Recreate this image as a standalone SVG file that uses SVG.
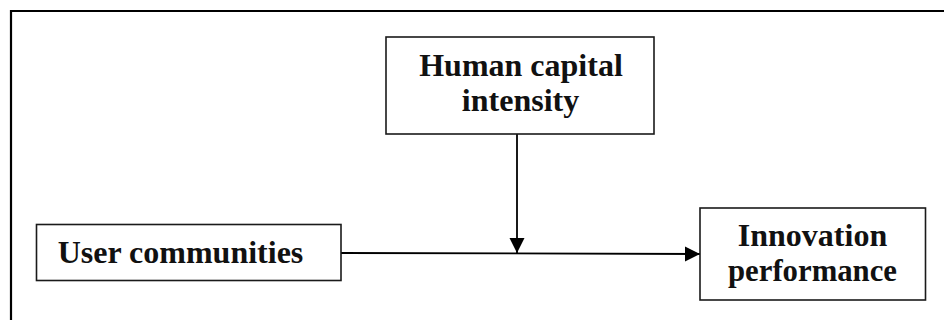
<svg xmlns="http://www.w3.org/2000/svg" width="944" height="320" viewBox="0 0 944 320">
  <style>
    .box { fill: #ffffff; stroke: #1a1a1a; stroke-width: 1.6; }
    .lbl { font-family: "Liberation Serif", "Times New Roman", serif; font-weight: bold; font-size: 32px; fill: #111111; text-anchor: middle; }
    .edge { stroke: #000000; stroke-width: 1.8; fill: none; }
    .frame { stroke: #000000; stroke-width: 2.2; fill: none; }
  </style>
  <defs>
    <marker id="arrow" viewBox="0 0 10 10" refX="10" refY="5" markerWidth="8.5" markerHeight="8.5" markerUnits="strokeWidth" orient="auto">
      <path d="M0,0 L10,5 L0,10 Z" fill="#000000"/>
    </marker>
  </defs>

  <rect width="944" height="320" fill="#ffffff"/>

  <!-- outer frame (open at right and bottom) -->
  <path class="frame" d="M11,320 L11,11 L944,11"/>

  <g id="connectors">
    <line class="edge" x1="517" y1="134" x2="517" y2="253" marker-end="url(#arrow)"/>
    <line class="edge" x1="341" y1="253" x2="700" y2="254" marker-end="url(#arrow)"/>
  </g>

  <g id="human-capital">
    <rect class="box" x="386" y="37" width="268" height="97"/>
    <text class="lbl" x="521" y="75.5">Human capital</text>
    <text class="lbl" x="520.5" y="111">intensity</text>
  </g>

  <g id="user-communities">
    <rect class="box" x="36.5" y="224.5" width="304.5" height="56"/>
    <text class="lbl" x="180.5" y="262.5">User communities</text>
  </g>

  <g id="innovation-performance">
    <rect class="box" x="700" y="208" width="225.5" height="92"/>
    <text class="lbl" x="812.5" y="245.5">Innovation</text>
    <text class="lbl" x="812.5" y="280.5" textLength="169" lengthAdjust="spacingAndGlyphs">performance</text>
  </g>
</svg>
